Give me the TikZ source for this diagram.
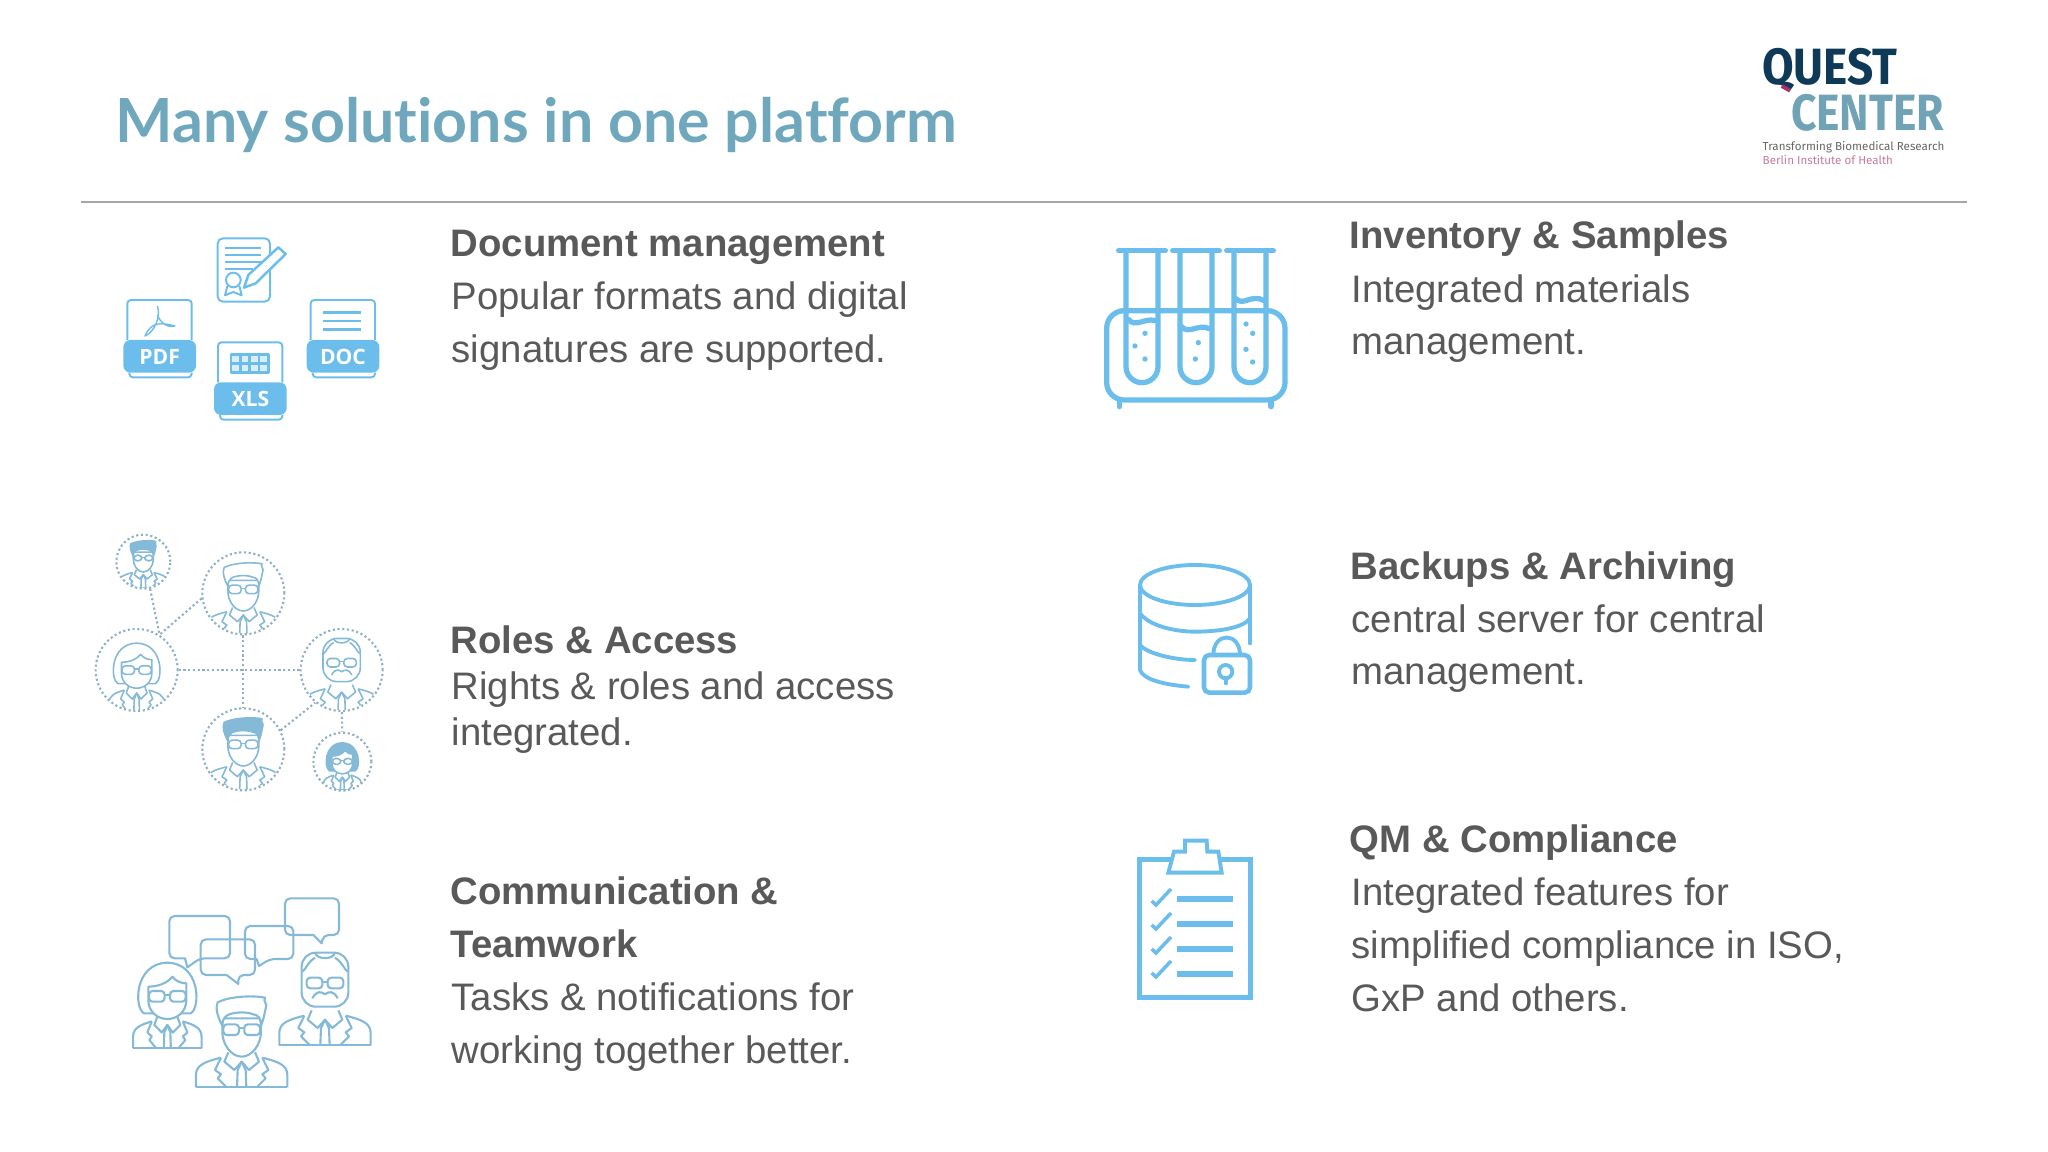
\documentclass[tikz,border=0pt]{standalone}
\usepackage{fontspec}
\setmainfont{Liberation Sans}
\newfontfamily\titlefont[Ligatures=NoCommon]{Lato}
\newfontfamily\logofont{Fira Sans}
\newfontfamily\iconfont{Open Sans}

\definecolor{titleblue}{HTML}{6FA8BD}
\definecolor{textgray}{HTML}{595959}
\definecolor{rulegray}{HTML}{A6A6A6}
\definecolor{iconblue}{HTML}{6BBDEB}
\definecolor{personblue}{HTML}{84B9D8}
\definecolor{dotgray}{HTML}{8FB0C2}
\definecolor{questdark}{HTML}{0F3A57}
\definecolor{questlight}{HTML}{6FA3B5}
\definecolor{questred}{HTML}{A8326A}

\tikzset{
  headtext/.style={anchor=base west,inner sep=0pt,text=textgray,font=\fontsize{10.9}{13}\selectfont\bfseries},
  bodytext/.style={anchor=base west,inner sep=0pt,text=textgray,font=\fontsize{10.9}{13}\selectfont},
  bandtext/.style={text=white,inner sep=0pt,font=\iconfont\fontsize{6}{7}\selectfont\bfseries},
  filepen/.style={draw=iconblue,line width=.55pt,line join=round},
  personpen/.style={personblue,line width=.6pt,line join=round},
  smallpen/.style={personblue,line width=.45pt,line join=round},
  member/.style={circle,draw=dotgray,line width=.6pt,dash pattern=on .6pt off .75pt,inner sep=0pt},
  dotlink/.style={draw=dotgray,line width=.6pt,dash pattern=on .6pt off .75pt},
}

% x, y, label
\newcommand{\fileicon}[3]{
  \begin{scope}[shift={(#1,#2)}]
    \draw[filepen,rounded corners=1pt] (12,120) -- (12,0) -- (205,0) -- (205,120);
    \draw[filepen,rounded corners=1pt] (18,218) -- (18,232) -- (205,232) -- (205,218);
    \fill[iconblue,rounded corners=2pt] (0,120) rectangle (218,218);
    \node[bandtext] at (109,171) {#3};
  \end{scope}
}

% jacket, tie and collar
\newcommand{\suit}{
  \draw (-137,177) -- (-137,140) .. controls (-137,110) and (-110,100) .. (-62,88);
  \draw (137,177) -- (137,140) .. controls (137,110) and (110,100) .. (62,88);
  \draw (-137,177) -- (137,177);
  \draw (-62,88) -- (-80,125) -- (-62,138) -- (-72,150) -- (-45,177);
  \draw (62,88) -- (80,125) -- (62,138) -- (72,150) -- (45,177);
  \draw (-40,72) -- (-52,100) -- (-22,125) -- (0,100) -- (22,125) -- (52,100) -- (40,72);
  \draw (0,100) -- (-12,125) -- (-14,177);
  \draw (0,100) -- (12,125) -- (14,177);
}
\newcommand{\glasses}{
  \draw[rounded corners=1pt] (-55,-12) rectangle (-8,20);
  \draw[rounded corners=1pt] (8,-12) rectangle (55,20);
  \draw (-8,0) -- (8,0);
}

% x, y, scale, hair colour
\newcommand{\manicon}[4]{
  \begin{scope}[shift={(#1,#2)},scale=#3]
    \suit
    \draw[fill=white] (-58,-30) -- (-58,10) .. controls (-58,50) and (-30,85) .. (0,85) .. controls (30,85) and (58,50) .. (58,10) -- (58,-30) -- cycle;
    \draw[fill=#4] (-58,-8) .. controls (-72,-35) and (-80,-60) .. (-72,-78) .. controls (-40,-95) and (30,-100) .. (70,-92) .. controls (62,-80) and (80,-75) .. (72,-60) .. controls (68,-40) and (65,-25) .. (58,-8) .. controls (58,-30) and (50,-40) .. (35,-42) .. controls (10,-52) and (-30,-48) .. (-45,-38) .. controls (-55,-30) and (-58,-20) .. (-58,-8) -- cycle;
    \glasses
  \end{scope}
}
\newcommand{\womanicon}[4]{
  \begin{scope}[shift={(#1,#2)},scale=#3]
    \begin{scope}[xscale=.75,yscale=.9]
      \suit
    \end{scope}
    \draw[fill=#4] (-70,55) .. controls (-100,40) and (-100,-95) .. (0,-97) .. controls (100,-95) and (100,40) .. (70,55) -- cycle;
    \draw[fill=white] (-57,-25) -- (-57,15) .. controls (-57,50) and (-30,72) .. (0,72) .. controls (30,72) and (57,50) .. (57,15) -- (57,-35) .. controls (45,-35) and (25,-40) .. (15,-55) .. controls (0,-35) and (-30,-25) .. (-57,-25) -- cycle;
    \glasses
  \end{scope}
}
\newcommand{\oldicon}[3]{
  \begin{scope}[shift={(#1,#2)},scale=#3]
    \begin{scope}[shift={(0,14)}]
      \suit
    \end{scope}
    \draw[fill=white,rounded corners=4pt] (-70,-87) rectangle (70,75);
    \draw (-30,-87) .. controls (-25,-65) and (25,-65) .. (30,-87);
    \draw (-68,-30) .. controls (-55,-40) and (-55,-55) .. (-30,-72);
    \draw (68,-30) .. controls (55,-40) and (55,-55) .. (30,-72);
    \glasses
    \draw (-38,50) .. controls (-25,25) and (-10,30) .. (0,38) .. controls (10,30) and (25,25) .. (38,50);
  \end{scope}
}
% left, top, right, bottom, tail start, tail tip x, tail end, tail tip y
\newcommand{\chatbubble}[8]{
  \draw[rounded corners=1.5pt] (#3,#2) -- (#3,#4) -- (#7,#4) [sharp corners] -- (#6,#8) -- (#5,#4) [rounded corners=1.5pt] -- (#1,#4) -- (#1,#2) -- cycle;
}

\begin{document}
\begin{tikzpicture}[x=.01cm,y=-.01cm]
  \useasboundingbox (0,0) rectangle (2048,1152);

  % title and rule
  \node[anchor=base west,inner sep=0pt,text=titleblue,font=\titlefont\fontsize{17.3}{20}\selectfont\bfseries] (title) at (115,143) {Many solutions in one platform};
  \coordinate (ruleL) at (81,202);
  \coordinate (ruleR) at (1967,202);
  \draw[rulegray,line width=.4pt] (ruleL) -- (ruleR);

  % logo
  \begin{scope}[shift={(1740,30)},scale=1/3]
    \node[anchor=base west,inner sep=0pt,text=questdark,font=\logofont\fontsize{14.5}{18}\selectfont\bfseries] (quest) at (64,163) {\scalebox{.9}[1]{QUEST}};
    \node[anchor=base west,inner sep=0pt,text=questlight,font=\logofont\fontsize{14.5}{18}\selectfont\bfseries] (center) at (151,303) {\scalebox{.87}[1]{CENTER}};
    \draw[questred,line width=1.1pt] (125,168) -- (150,182);
    \node[anchor=base west,inner sep=0pt,text=black!60,font=\logofont\fontsize{3.3}{5}\selectfont] (slogan) at (66,362) {Transforming Biomedical Research};
    \node[anchor=base west,inner sep=0pt,text=questred!65,font=\logofont\fontsize{3.3}{5}\selectfont] (bih) at (66,405) {Berlin Institute of Health};
  \end{scope}

  % left column
  \node[headtext] (docH) at (450,257) {Document management};
  \node[bodytext] (docA) at (451,310) {Popular formats and digital};
  \node[bodytext] (docB) at (451,363) {signatures are supported.};
  \node[headtext] (roleH) at (450,653) {Roles \& Access};
  \node[bodytext] (roleA) at (451,699) {Rights \& roles and access};
  \node[bodytext] (roleB) at (451,745) {integrated.};
  \node[headtext] (commH) at (450,904) {Communication \&};
  \node[headtext] (commI) at (450,957) {Teamwork};
  \node[bodytext] (commA) at (451,1010) {Tasks \& notifications for};
  \node[bodytext] (commB) at (451,1063) {working together better.};

  % right column
  \node[headtext] (invH) at (1349,249) {Inventory \& Samples};
  \node[bodytext] (invA) at (1351,303) {Integrated materials};
  \node[bodytext] (invB) at (1351,355) {management.};
  \node[headtext] (backH) at (1350,580) {Backups \& Archiving};
  \node[bodytext] (backA) at (1351,633) {central server for central};
  \node[bodytext] (backB) at (1351,685) {management.};
  \node[headtext] (qmH) at (1349,852) {QM \& Compliance};
  \node[bodytext] (qmA) at (1351,905) {Integrated features for};
  \node[bodytext] (qmB) at (1351,958) {simplified compliance in ISO,};
  \node[bodytext] (qmC) at (1351,1011) {GxP and others.};

  % document icons
  \begin{scope}[shift={(90,220)},scale=1/3]
    \draw[filepen,rounded corners=1.5pt] (383,55) rectangle (540,245);
    \foreach \y in {85,105,125} \draw[filepen] (405,\y) -- (512,\y);
    \draw[filepen] (405,148) -- (490,148);
    \draw[filepen] (430,180) circle [radius=22];
    \draw[filepen] (412,198) -- (405,226) -- (430,216) -- (455,226) -- (448,198);
    \draw[filepen,fill=white,line width=.7pt] (462,203) -- (475,165) -- (565,82) -- (587,102) -- (497,190) -- cycle;
    \fileicon{100}{240}{PDF}
    \fileicon{650}{240}{DOC}
    \fileicon{372}{367}{XLS}
    \draw[filepen,line width=.4pt] (202,258) .. controls (215,290) and (190,340) .. (165,348) .. controls (185,300) and (220,310) .. (255,318) .. controls (230,325) and (210,305) .. (202,285);
    \foreach \y in {278,303,328} \draw[filepen,line width=.8pt] (700,\y) -- (812,\y);
    \draw[filepen,fill=iconblue!25,line width=.8pt] (423,403) rectangle (535,458);
    \draw[filepen,line width=.8pt] (423,430) -- (535,430);
    \foreach \x in {451,479,507} \draw[filepen,line width=.8pt] (\x,403) -- (\x,458);
  \end{scope}

  % team network
  \begin{scope}[shift={(80,520)},scale=1/3]
    \node[member,minimum size=.54cm] (nodeA) at (190,125) {};
    \node[member,minimum size=.82cm] (nodeB) at (490,220) {};
    \node[member,minimum size=.82cm] (nodeC) at (170,450) {};
    \node[member,minimum size=.82cm] (nodeD) at (785,450) {};
    \node[member,minimum size=.82cm] (nodeE) at (490,688) {};
    \node[member,minimum size=.58cm] (nodeF) at (787,725) {};
    \draw[dotlink] (nodeA.284) -- (nodeC.57);
    \draw[dotlink] (nodeB.187) -- (nodeC.57);
    \draw[dotlink] (nodeC) -- (nodeD);
    \draw[dotlink] (nodeB) -- (nodeE);
    \draw[dotlink] (nodeE.27) -- (nodeD.231);
    \draw[dotlink] (nodeD) -- (nodeF);
    \begin{scope}[smallpen]
      \begin{scope}
        \clip (190,125) circle [radius=78];
        \manicon{190}{112}{.52}{personblue}
      \end{scope}
      \begin{scope}
        \clip (490,220) circle [radius=120];
        \manicon{490}{205}{.8}{white}
      \end{scope}
      \begin{scope}
        \clip (170,450) circle [radius=120];
        \womanicon{170}{447}{.8}{white}
      \end{scope}
      \begin{scope}
        \clip (785,450) circle [radius=120];
        \oldicon{785}{425}{.8}
      \end{scope}
      \begin{scope}
        \clip (490,688) circle [radius=120];
        \manicon{490}{670}{.8}{personblue}
      \end{scope}
      \begin{scope}
        \clip (787,725) circle [radius=85];
        \womanicon{787}{722}{.55}{personblue}
      \end{scope}
    \end{scope}
  \end{scope}

  % communication icon
  \begin{scope}[shift={(110,880)},scale=1/3,personpen]
    \chatbubble{178}{108}{360}{235}{225}{232}{270}{262}
    \chatbubble{272}{178}{435}{285}{350}{385}{385}{312}
    \chatbubble{405}{138}{550}{237}{440}{447}{480}{258}
    \chatbubble{525}{55}{687}{165}{610}{635}{640}{190}
    \womanicon{172}{345}{1}{white}
    \manicon{395}{445}{1}{white}
    \oldicon{645}{305}{1}
  \end{scope}

  % test tubes
  \begin{scope}[shift={(1090,230)},scale=1/3,iconblue,line width=1.5pt,line cap=round,line join=round]
    \foreach \x in {156,318,480} {
      \draw (\x-70,62) -- (\x+70,62);
      \draw (\x-48,62) -- (\x-48,410) arc [start angle=180,end angle=0,radius=48] -- (\x+48,62);
    }
    \draw[rounded corners=5pt] (50,242) rectangle (585,510);
    \draw (88,510) -- (88,530);
    \draw (543,510) -- (543,530);
    \draw (115,268) .. controls (135,295) and (165,262) .. (195,272);
    \draw (275,290) .. controls (295,315) and (325,280) .. (358,296);
    \draw (438,206) .. controls (460,230) and (485,190) .. (522,212);
    \foreach \x/\y in {165/310,135/348,165/387,325/338,316/387,468/282,488/310,468/358,488/396}
      \fill (\x,\y) circle [radius=8];
  \end{scope}

  % database and lock
  \begin{scope}[shift={(1110,550)},scale=1/3,iconblue,line width=1.1pt,line cap=round,line join=round]
    \draw (255,105) ellipse [x radius=165,y radius=60];
    \draw (90,105) -- (90,360) .. controls (100,390) and (170,405) .. (235,410);
    \draw (420,105) -- (420,280);
    \draw (90,190) .. controls (120,230) and (200,245) .. (255,245) .. controls (320,245) and (400,235) .. (420,205);
    \draw (90,285) .. controls (110,310) and (190,330) .. (255,330);
    \draw[fill=white,rounded corners=1.5pt,line width=1.3pt] (282,315) rectangle (420,428);
    \draw (310,315) .. controls (310,245) and (390,245) .. (390,315);
    \draw (347,365) circle [radius=20];
    \draw (347,385) -- (347,400);
  \end{scope}

  % clipboard
  \begin{scope}[shift={(1120,825)},scale=1/3,iconblue,line join=miter]
    \draw[line width=1.35pt] (58,103) rectangle (392,518);
    \draw[fill=white,line width=1.1pt] (145,143) -- (305,143) -- (295,80) -- (262,80) -- (260,47) -- (195,47) -- (195,80) -- (162,80) -- cycle;
    \foreach \y in {0,72,144,216} {
      \draw[line width=1pt] (95,228+\y) -- (108,240+\y) -- (153,192+\y);
      \draw[line width=1.5pt] (172,222+\y*1.04) -- (338,222+\y*1.04);
    }
  \end{scope}
\end{tikzpicture}
\end{document}
